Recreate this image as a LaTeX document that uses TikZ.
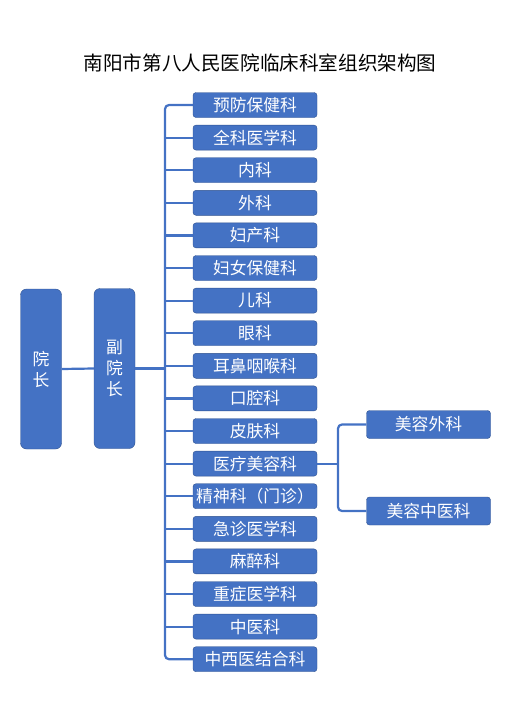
\documentclass[tikz,border=0pt]{standalone}
\usepackage{fontspec}
\setmainfont{Noto Sans CJK SC}
\usetikzlibrary{positioning,calc}
\definecolor{boxblue}{HTML}{4472C4}
\definecolor{boxedge}{HTML}{2F528F}

\tikzset{
  dept/.style={draw=boxedge, fill=boxblue, rounded corners=3pt, text=white, minimum width=124pt, minimum height=25pt, inner sep=0pt, font=\fontsize{16.8}{18}\selectfont},
  lead/.style={draw=boxedge, fill=boxblue, rounded corners=6pt, text=white, minimum width=41pt, minimum height=160pt, inner sep=0pt, align=center, font=\fontsize{16.8}{21}\selectfont},
  conn/.style={draw=boxblue, line width=2.2pt}
}

\begin{document}
\begin{tikzpicture}[x=1pt, y=-1pt]
        \useasboundingbox (0,0) rectangle (521,725);
        % title
        \node[font=\fontsize{19.6}{22}\selectfont] (title) at (260,63) {南阳市第八人民医院临床科室组织架构图};

        % leaders
        \node[lead] (yz) at (41,369) {院\\长};
        \node[lead] (fyz) at (114.5,368.5) {副\\院\\长};

        % departments
        \foreach \name [count=\i] in {预防保健科, 全科医学科, 内科, 外科, 妇产科, 妇女保健科, 儿科, 眼科, 耳鼻咽喉科, 口腔科, 皮肤科, 医疗美容科, 精神科（门诊）, 急诊医学科, 麻醉科, 重症医学科, 中医科, 中西医结合科}
            \node[dept] (d\i) at (255,{105+32.6*(\i-1)}) {\name};

        % cosmetic sub-units
        \node[dept, minimum height=28pt] (mw) at (428.5,424.5) {美容外科};
        \node[dept, minimum height=28pt] (mz) at (428.5,511) {美容中医科};

        \coordinate (trunk) at (165,0);
        \coordinate (branch) at (338,0);

        % connectors
        \draw[conn] (yz.east) -- (fyz.west);
        \draw[conn] (fyz.east) -- (trunk |- fyz.east);
        \draw[conn, rounded corners=4pt] (d1.west) -| (trunk |- d18.west) -- (d18.west);
        \foreach \i in {2,...,17}
            \draw[conn] (trunk |- d\i.west) -- (d\i.west);
        \draw[conn] (d12.east) -- (branch |- d12.east);
        \draw[conn, rounded corners=4pt] (mw.west) -| (branch |- mz.west) -- (mz.west);
    \end{tikzpicture}
\end{document}
